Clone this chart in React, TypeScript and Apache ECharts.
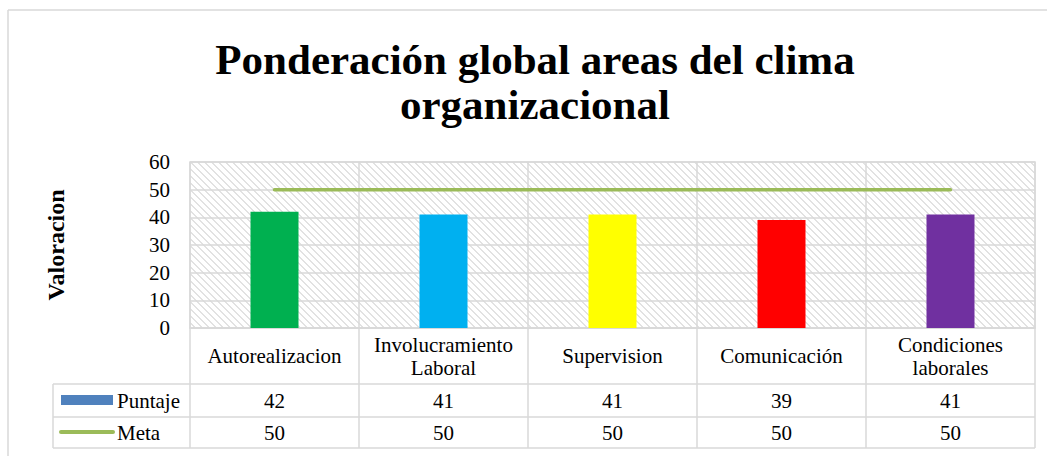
import React, { useEffect, useRef } from "react";
import * as echarts from "echarts";

const titleText = "Ponderación global areas del clima\norganizacional";
const yAxisName = "Valoracion";
const categories = ["Autorealizacion", "Involucramiento Laboral", "Supervision", "Comunicación", "Condiciones laborales"];
const puntaje = [42, 41, 41, 39, 41];
const meta = [50, 50, 50, 50, 50];
const barColors = ["#00b050", "#00b0f0", "#ffff00", "#ff0000", "#7030a0"];
const seriesNames = ["Puntaje", "Meta"];
const yMin = 0;
const yMax = 60;
const yInterval = 10;

const FONT = "Liberation Serif, serif";
const GRAY = "#d9d9d9";

function makeHatch(): string {
  const n = 7;
  const c = document.createElement("canvas");
  c.width = n;
  c.height = n;
  const ctx = c.getContext("2d")!;
  ctx.fillStyle = "#ffffff";
  ctx.fillRect(0, 0, n, n);
  ctx.fillStyle = "#e2e2e2";
  for (let i = 0; i < n; i++) {
    ctx.fillRect(i, i, 1, 1);
    ctx.fillRect((i + 1) % n, i, 1, 1);
  }
  return c.toDataURL();
}

export default function App() {
  const ref = useRef<HTMLDivElement>(null);
  useEffect(() => {
    if (!ref.current) return;
    const chart = echarts.init(ref.current, undefined, { renderer: "svg" });
    const gridLeft = 190;
    const gridRight = 1035;
    const gridTop = 162;
    const axisY = 328;
    const row1 = 384;
    const row2 = 417;
    const row3 = 448;
    const legendX = 53;
    const lineStyle = { stroke: GRAY, lineWidth: 1.5 };
    const hatch = makeHatch();

    chart.setOption({
      animation: false,
      backgroundColor: "#ffffff",
      grid: {
        left: gridLeft,
        right: 1047 - gridRight,
        top: gridTop,
        bottom: 456 - axisY,
        show: true,
        borderColor: GRAY,
        borderWidth: 1.5,
        backgroundColor: { image: hatch, repeat: "repeat" },
      },
      xAxis: [
        {
          type: "category",
          data: categories,
          position: "bottom",
          axisLine: { show: true, lineStyle: { color: GRAY, width: 1.5 } },
          axisTick: { show: true, length: row3 - axisY, lineStyle: { color: GRAY, width: 1.5 } },
          splitLine: { show: true, lineStyle: { color: GRAY, width: 1.5 } },
          axisLabel: {
            interval: 0,
            margin: 28,
            verticalAlign: "middle",
            color: "#000",
            fontFamily: FONT,
            fontSize: 21,
            lineHeight: 23,
            formatter: (v: string) => v.replace(" ", "\n"),
          },
        },
        {
          type: "category",
          data: categories,
          position: "bottom",
          axisLine: { show: false },
          axisTick: { show: false },
          axisLabel: {
            interval: 0,
            margin: (row1 + row2) / 2 - axisY,
            verticalAlign: "middle",
            color: "#000",
            fontFamily: FONT,
            fontSize: 21,
            formatter: (_v: string, i: number) => String(puntaje[i]),
          },
        },
        {
          type: "category",
          data: categories,
          position: "bottom",
          axisLine: { show: false },
          axisTick: { show: false },
          axisLabel: {
            interval: 0,
            margin: (row2 + row3) / 2 - axisY,
            verticalAlign: "middle",
            color: "#000",
            fontFamily: FONT,
            fontSize: 21,
            formatter: (_v: string, i: number) => String(meta[i]),
          },
        },
      ],
      yAxis: {
        type: "value",
        min: yMin,
        max: yMax,
        interval: yInterval,
        axisLine: { show: false },
        axisTick: { show: false },
        splitLine: { show: true, lineStyle: { color: GRAY, width: 1.5 } },
        axisLabel: { color: "#000", fontFamily: FONT, fontSize: 21, margin: 20 },
      },
      series: [
        {
          name: seriesNames[0],
          type: "bar",
          xAxisIndex: 0,
          barWidth: 48,
          data: puntaje.map((v, i) => ({ value: v, itemStyle: { color: barColors[i] } })),
        },
        {
          name: seriesNames[1],
          type: "line",
          xAxisIndex: 0,
          symbol: "none",
          data: meta,
          lineStyle: { color: "#9bbb59", width: 3.5, cap: "round" },
          itemStyle: { color: "#9bbb59" },
        },
      ],
      graphic: [
        { type: "line", shape: { x1: 8, y1: 10, x2: 1047, y2: 10 }, style: lineStyle, silent: true },
        { type: "line", shape: { x1: 8, y1: 10, x2: 8, y2: 456 }, style: lineStyle, silent: true },
        {
          type: "text",
          x: 535,
          y: 82,
          style: {
            text: titleText,
            fill: "#000",
            font: `bold 43px ${FONT}`,
            lineHeight: 45,
            align: "center",
            verticalAlign: "middle",
          },
        },
        {
          type: "text",
          x: 56,
          y: 245,
          rotation: Math.PI / 2,
          style: {
            text: yAxisName,
            fill: "#000",
            font: `bold 24px ${FONT}`,
            align: "center",
            verticalAlign: "middle",
          },
        },
        { type: "line", shape: { x1: legendX, y1: row1, x2: gridRight, y2: row1 }, style: lineStyle, silent: true },
        { type: "line", shape: { x1: legendX, y1: row2, x2: gridRight, y2: row2 }, style: lineStyle, silent: true },
        { type: "line", shape: { x1: legendX, y1: row3, x2: gridRight, y2: row3 }, style: lineStyle, silent: true },
        { type: "line", shape: { x1: legendX, y1: row1, x2: legendX, y2: row3 }, style: lineStyle, silent: true },
        { type: "rect", shape: { x: 61, y: 395, width: 52, height: 10 }, style: { fill: "#4f81bd" } },
        {
          type: "text",
          x: 117,
          y: (row1 + row2) / 2,
          style: { text: seriesNames[0], fill: "#000", font: `21px ${FONT}`, verticalAlign: "middle" },
        },
        {
          type: "line",
          shape: { x1: 61, y1: 432, x2: 113, y2: 432 },
          style: { stroke: "#9bbb59", lineWidth: 4, lineCap: "round" },
        },
        {
          type: "text",
          x: 117,
          y: (row2 + row3) / 2,
          style: { text: seriesNames[1], fill: "#000", font: `21px ${FONT}`, verticalAlign: "middle" },
        },
      ],
    });
    return () => chart.dispose();
  }, []);
  return (
    <div
      ref={ref}
      style={{ position: "absolute", left: 0, top: 0, width: 1047, height: 456 }}
    />
  );
}
